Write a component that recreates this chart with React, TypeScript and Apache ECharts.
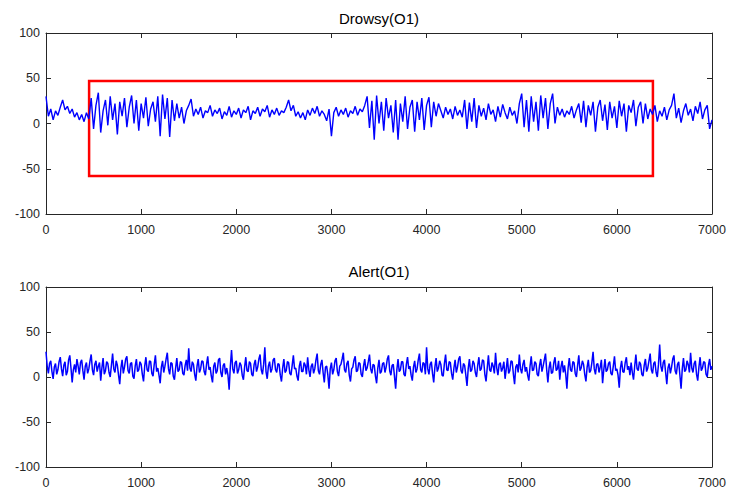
import React, { useEffect, useRef } from "react";
import * as echarts from "echarts";

const DROWSY_STEP = 25;
const ALERT_STEP = 12.5;
const xTicks = [0, 1000, 2000, 3000, 4000, 5000, 6000, 7000];
const yTicks = [-100, -50, 0, 50, 100];
const titles = ["Drowsy(O1)", "Alert(O1)"];

const drowsy = [
  30, 8, 16, 4, 14, 9, 18, 26, 15, 19, 11, 16, 7, 12, 4, 10, 2, 12, 5, 28,
  -6, 20, 34, -10, 14, 26, -2, 30, 4, 22, -12, 24, 8, 28, -4, 18, 31, 0, 26, -8,
  22, 6, 29, -3, 16, 24, 2, 30, -14, 32, 5, 28, -15, 26, 3, 22, 6, 18, 0, 14,
  20, 27, 8, 16, 10, 18, 6, 14, 12, 20, 8, 15, 11, 17, 5, 13, 9, 19, 7, 14,
  10, 17, 6, 15, 12, 19, 4, 14, 11, 18, 8, 16, 13, 20, 7, 15, 10, 17, 9, 14,
  12, 18, 26, 14, 20, 8, 13, 6, 12, 4, 15, 9, 17, 11, 19, 8, 14, 10, 3, 16,
  -14, 12, 18, 8, 15, 10, 17, 7, 14, 11, 19, 9, 16, 13, 20, 30, -5, 25, -18, 31,
  0, 24, -8, 28, 6, 20, -10, 26, -18, 22, 2, 30, -6, 18, 26, -9, 24, 4, 28, -7,
  20, 29, -4, 24, 8, 22, 14, 6, 18, 10, 16, 5, 19, 9, 15, 7, 26, -6, 23, 2,
  28, -5, 20, 8, 17, 4, 22, 10, 15, 2, 19, 7, 21, 12, 5, 18, 9, 14, 0, 22,
  33, -4, 26, -9, 30, 2, 24, -8, 31, 6, 28, -6, 22, 33, 0, 18, 9, 16, 7, 14,
  10, 19, 6, 15, 22, 1, 25, -4, 20, 9, 24, -9, 18, 26, 3, 21, -7, 24, 6, 19,
  -5, 25, 8, 22, -9, 20, 12, 26, -3, 18, 24, 0, 22, 5, 16, 10, 20, 2, 14, 8,
  18, 4, 15, 20, 33, 6, 17, 1, 14, 22, 9, 16, 3, 19, 11, 24, 5, 15, 20, -6,
  4,
];

const alert = [
  28, 12, 4, 15, 18, 6, -2, 11, 15, 3, 8, 17, 22, 9, 1, 13, 17, 2, 6, 19, 24, 10, -6, 8, 14, 5, 20, 12, 3, 16, 19, 7, -3, 12, 16, 4, 9, 18, 25, 8,
  2, 14, 18, 6, 12, 16, -4, 10, 21, 3, 7, 17, 15, 5, 0, 13, 26, 9, 5, 18, 13, 2, -8, 10, 19, 4, 11, 20, 23, 7, 4, 15, 16, 1, -2, 12, 20, 6, 8, 17,
  14, 3, -5, 12, 22, 8, 6, 18, 17, 4, 1, 14, 24, 6, 10, 2, -7, 11, 18, 5, 12, 20, 27, 9, 3, 16, 15, 1, -3, 10, 21, 6, 8, 17, 16, 4, 2, 13, 19, 7,
  32, 10, 6, 17, 14, 3, -4, 12, 20, 5, 9, 18, 17, 6, 2, 14, 23, 8, 11, 1, -6, 12, 16, 4, 7, 19, 21, 5, 0, 13, 15, 3, 10, 2, -14, 12, 30, 9, 4, 16,
  18, 4, 8, 16, 13, 2, -3, 11, 22, 7, 6, 17, 15, 3, 1, 14, 19, 6, 11, 20, 25, 8, 3, 14, 33, 6, -2, 12, 17, 5, 9, 19, 21, 8, 5, 15, 14, 2, -5, 10,
  20, 5, 7, 17, 16, 4, 2, 13, 24, 9, 10, 1, -4, 12, 18, 6, 6, 16, 13, 3, 22, 8, 0, 12, 15, 4, 9, 19, 26, 7, 3, 14, 19, 5, -6, 11, 12, 2, -13, 9,
  16, 3, 8, 18, 21, 6, 1, 12, 14, 20, 27, 8, 5, 15, 18, 2, -5, 9, 11, 19, 23, 6, 7, 16, 15, 3, 0, 12, 20, 7, 10, 17, 25, 9, 4, 14, 13, 1, -7, 10,
  19, 4, 6, 15, 16, 5, 11, 20, 24, 7, 2, 13, 14, 1, -13, 8, 20, 6, 8, 17, 17, 3, 1, 14, 22, 9, 12, 2, -4, 11, 18, 5, 9, 19, 26, 8, 5, 16, 15, 3,
  33, 9, 3, 14, 17, 4, -6, 11, 21, 6, 10, 18, 14, 2, 1, 15, 25, 8, 7, 17, 16, 4, -3, 10, 19, 5, 11, 20, 23, 7, 4, 15, 13, 2, -10, 9, 20, 6, 8, 18,
  15, 5, 0, 13, 22, 7, 9, 19, 18, 3, -5, 10, 24, 8, 6, 16, 12, 4, 27, 10, 2, 14, 16, 6, 10, 17, -2, 9, 21, 4, 7, 18, 17, 3, -8, 11, 14, 5, 25, 9,
  4, 14, 19, 6, 11, 2, -4, 12, 23, 7, 8, 17, 15, 3, 1, 13, 20, 6, 12, 19, 26, 8, -6, 10, 17, 4, 5, 16, 22, 7, 9, 18, -3, 11, 18, 5, 13, 3, -13, 10,
  21, 8, 6, 17, 16, 4, 0, 13, 24, 7, 10, 18, 14, 3, -5, 11, 19, 5, 7, 16, 28, 9, 3, 14, 15, 5, 11, 19, -7, 8, 20, 6, 8, 15, 17, 4, 2, 12, 23, 7,
  9, 2, -12, 10, 18, 6, 5, 16, 22, 8, 12, 2, 16, 5, -3, 12, 25, 9, 7, 17, 14, 3, 1, 13, 20, 6, 10, 18, 26, 8, 4, 15, 17, 5, 0, 14, 36, 12, 6, 16,
  19, 5, -8, 10, 15, 4, 11, 20, 24, 7, 3, 14, 17, 2, -13, 9, 21, 6, 8, 18, 14, 5, 27, 10, 5, 15, 18, 3, -4, 11, 22, 7, 10, 17, 16, 3, 0, 13, 20, 8,
  12,
];

// Highlight rectangle on the Drowsy plot: [xStart, yTop], [xEnd, yBottom]
const highlightStart = [453, 47];
const highlightEnd = [6379, -58];

const FONT = "Liberation Sans, Arial, sans-serif";
const AXIS_COLOR = "#262626";

export default function App() {
  const ref = useRef<HTMLDivElement>(null);
  useEffect(() => {
    document.body.style.margin = "0";
    const chart = echarts.init(ref.current!, null, { renderer: "svg" });
    const grids = [
      { left: 46, right: 17, top: 33, height: 181 },
      { left: 46, right: 17, top: 287, height: 180 },
    ];
    const xAxes: any[] = [];
    const yAxes: any[] = [];
    grids.forEach((_, gi) => {
      const baseX = {
        type: "value",
        gridIndex: gi,
        min: xTicks[0],
        max: xTicks[xTicks.length - 1],
        interval: 1000,
        axisLine: { show: true, onZero: false, lineStyle: { color: AXIS_COLOR, width: 1 } },
        axisTick: { show: true, inside: true, length: 5, lineStyle: { color: AXIS_COLOR } },
        splitLine: { show: false },
      };
      xAxes.push({
        ...baseX,
        position: "bottom",
        axisLabel: {
          show: true,
          margin: 9,
          color: AXIS_COLOR,
          fontSize: 12.5,
          fontFamily: FONT,
          formatter: (v: number) => String(v),
        },
      });
      xAxes.push({ ...baseX, position: "top", axisLabel: { show: false } });
      const baseY = {
        type: "value",
        gridIndex: gi,
        min: yTicks[0],
        max: yTicks[yTicks.length - 1],
        interval: 50,
        axisLine: { show: true, onZero: false, lineStyle: { color: AXIS_COLOR, width: 1 } },
        axisTick: { show: true, inside: true, length: 5, lineStyle: { color: AXIS_COLOR } },
        splitLine: { show: false },
      };
      yAxes.push({
        ...baseY,
        position: "left",
        axisLabel: {
          show: true,
          margin: 6,
          color: AXIS_COLOR,
          fontSize: 12.5,
          fontFamily: FONT,
          formatter: (v: number) => String(v),
        },
      });
      yAxes.push({ ...baseY, position: "right", axisLabel: { show: false } });
    });

    const toPoints = (arr: number[], step: number) => arr.map((v, i) => [i * step, v]);

    chart.setOption({
      animation: false,
      backgroundColor: "#ffffff",
      title: titles.map((t, i) => ({
        text: t,
        left: 379,
        textAlign: "center",
        top: i === 0 ? 11 : 264,
        padding: 0,
        textStyle: { fontSize: 15, fontWeight: "normal", color: "#000", fontFamily: FONT },
      })),
      grid: grids,
      xAxis: xAxes,
      yAxis: yAxes,
      series: [
        {
          type: "line",
          xAxisIndex: 0,
          yAxisIndex: 0,
          data: toPoints(drowsy, DROWSY_STEP),
          showSymbol: false,
          lineStyle: { color: "#0000ff", width: 1.4 },
          markArea: {
            silent: true,
            itemStyle: { color: "rgba(0,0,0,0)", borderColor: "#ff0000", borderWidth: 2.5 },
            data: [[{ coord: highlightStart }, { coord: highlightEnd }]],
          },
        },
        {
          type: "line",
          xAxisIndex: 2,
          yAxisIndex: 2,
          data: toPoints(alert, ALERT_STEP),
          showSymbol: false,
          sampling: undefined,
          lineStyle: { color: "#0000ff", width: 1.5 },
        },
      ],
    });
    return () => chart.dispose();
  }, []);
  return <div ref={ref} style={{ width: 729, height: 492 }} />;
}
